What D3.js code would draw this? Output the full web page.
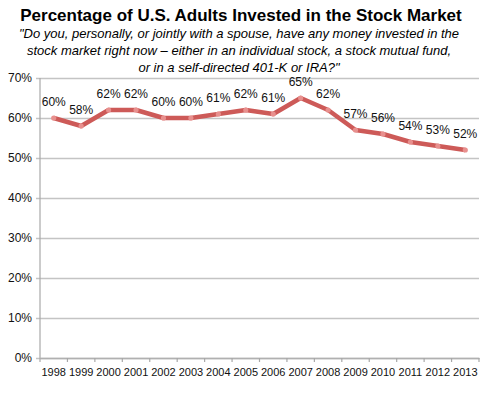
<!DOCTYPE html>
<html>
<head>
<meta charset="utf-8">
<script src="https://cdn.jsdelivr.net/npm/d3@7"></script>
<style>
  body { margin: 0; background: #fff; }
  svg { display: block; font-family: "Liberation Sans", Arial, sans-serif; }
  .axis text { font-size: 11px; fill: #111; }
</style>
</head>
<body>
<div class="chart"></div>
<script>
// data
const years = ['1998','1999','2000','2001','2002','2003','2004','2005','2006','2007','2008','2009','2010','2011','2012','2013'];
const pct = [60, 58, 62, 62, 60, 60, 61, 62, 61, 65, 62, 57, 56, 54, 53, 52];
const yTicks = [0, 10, 20, 30, 40, 50, 60, 70];

const titleText = 'Percentage of U.S. Adults Invested in the Stock Market';
const subLines = [
  '"Do you, personally, or jointly with a spouse, have any money invested in the',
  'stock market right now \u2013 either in an individual stock, a stock mutual fund,',
  'or in a self-directed 401-K or IRA?"'
];

const W = 480, H = 395;
const margin = { top: 78, right: 1, bottom: 37, left: 40 };
const cw = W - margin.left - margin.right;
const ch = H - margin.top - margin.bottom;

const svg = d3.select('.chart').append('svg').attr('width', W).attr('height', H);

// header
svg.append('text').attr('x', 241).attr('y', 21)
  .attr('text-anchor', 'middle')
  .style('font-size', '17px').style('font-weight', 'bold')
  .text(titleText);
svg.append('g').selectAll('text').data(subLines).enter()
  .append('text')
  .attr('x', 239).attr('y', (d, i) => 38 + i * 17)
  .attr('text-anchor', 'middle')
  .style('font-size', '13px').style('font-style', 'italic')
  .text(d => d);

const g = svg.append('g').attr('transform', `translate(${margin.left},${margin.top})`);

const x = d3.scaleBand().domain(years).range([0, cw]);
const y = d3.scaleLinear().domain([0, 70]).range([ch, 0]);

// gridlines + y axis
const yAxis = d3.axisLeft(y).tickValues(yTicks).tickFormat(d => d + '%')
  .tickSizeInner(-cw).tickSizeOuter(0).tickPadding(8);
const ya = g.append('g').attr('class', 'y axis').call(yAxis);
ya.select('.domain').remove();
ya.selectAll('line').attr('stroke', '#c4c4c4').attr('stroke-width', 1.5).attr('x1', -4);
ya.selectAll('text').style('font-size', '12px');

// left axis line
g.append('line').attr('x1', 0).attr('x2', 0).attr('y1', 0).attr('y2', ch)
  .attr('stroke', '#a8a8a8').attr('stroke-width', 1.2);

// x axis with ticks at band edges
const xa = g.append('g').attr('class', 'x axis').attr('transform', `translate(0,${ch})`)
  .call(d3.axisBottom(x).tickSize(0).tickPadding(10));
xa.select('.domain').attr('stroke', '#b0b0b0').attr('stroke-width', 1.5);
xa.selectAll('text').style('font-size', '11px');
xa.selectAll('.edge').data(years.concat(['end'])).enter()
  .append('line').attr('class', 'edge')
  .attr('x1', (d, i) => i * x.step()).attr('x2', (d, i) => i * x.step())
  .attr('y1', 0).attr('y2', 4)
  .attr('stroke', '#a8a8a8').attr('stroke-width', 1.2);

// line
const pts = years.map((yr, i) => ({ yr, v: pct[i] }));
const line = d3.line().x(d => x(d.yr) + x.bandwidth() / 2).y(d => y(d.v));
g.append('path').datum(pts)
  .attr('d', line)
  .attr('fill', 'none')
  .attr('stroke', '#cd5a58')
  .attr('stroke-width', 4.5)
  .attr('stroke-linejoin', 'round');

g.selectAll('.dot').data(pts).enter()
  .append('circle').attr('class', 'dot')
  .attr('cx', d => x(d.yr) + x.bandwidth() / 2)
  .attr('cy', d => y(d.v))
  .attr('r', 2.6)
  .attr('fill', '#e8908e');

// value labels
g.selectAll('.lbl').data(pts).enter()
  .append('text').attr('class', 'lbl')
  .attr('x', d => x(d.yr) + x.bandwidth() / 2)
  .attr('y', d => y(d.v) - 12)
  .attr('text-anchor', 'middle')
  .style('font-size', '12px')
  .style('fill', '#111')
  .text(d => d.v + '%');
</script>
</body>
</html>
